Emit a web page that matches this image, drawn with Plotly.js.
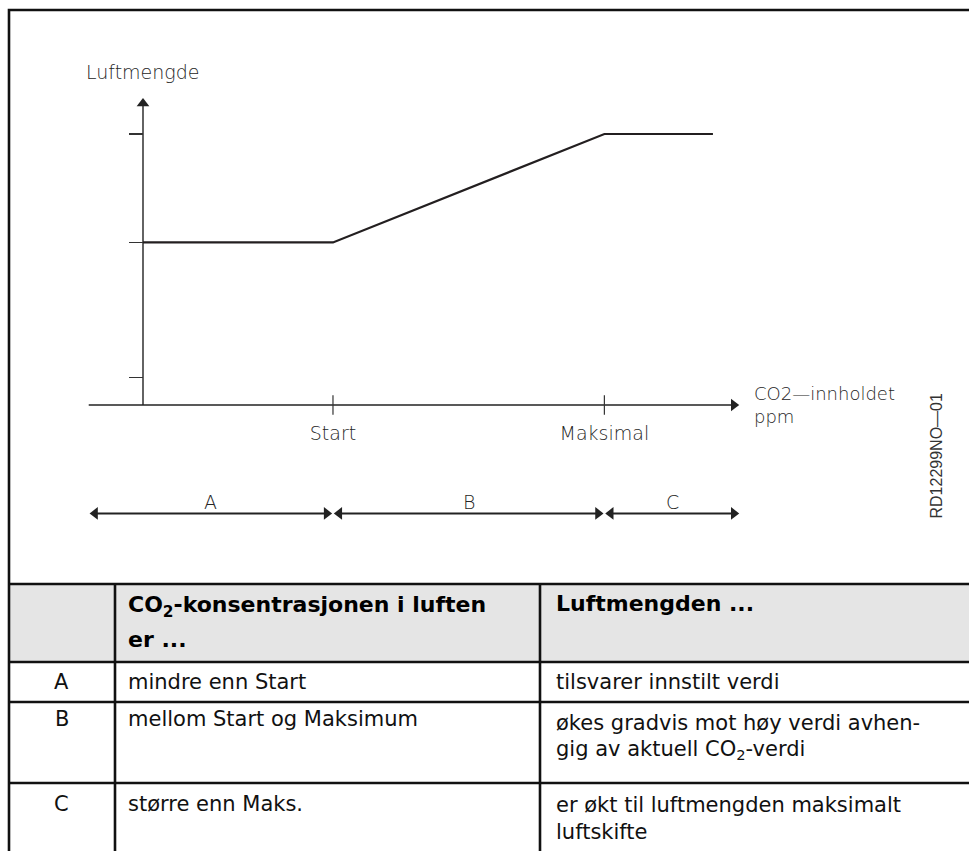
<!DOCTYPE html>
<html>
<head>
<meta charset="utf-8">
<script src="https://cdn.plot.ly/plotly-3.0.1.min.js"></script>
<style>html,body{margin:0;padding:0;background:#ffffff;}</style>
</head>
<body>
<div id="chart" style="width:969px;height:851px;"></div>
<script>
// ---------- data ----------
const co2Level = [0, 7, 17, 21];          // CO2 content (schematic units)
const airFlow  = [6, 6, 10, 10];          // Luftmengde (schematic units)
const xTickVals = [7, 17];
const xTickText = ['Start', 'Maksimal'];
const yTickVals = [1, 6, 10];
const axisXMin = -2, axisXMax = 22, axisYMax = 11.36;
const regionNames = ['A', 'B', 'C'];
const regionFrom  = [-2, 7, 17];
const regionTo    = [7, 17, 22];
const regionRowY  = -4;
const yAxisTitle = 'Luftmengde';
const xAxisTitle = 'CO2\u2014innholdet<br>ppm';
const drawingId = 'RD12299NO\u201401';

const headCol2 = ['<b>CO<sub>2</sub>-konsentrasjonen i luften</b>', '<b>er ...</b>'];
const headCol3 = ['<b>Luftmengden ...</b>'];
const rowKeys = ['A', 'B', 'C'];
const rowCol2 = [['mindre enn Start'], ['mellom Start og Maksimum'], ['st\u00f8rre enn Maks.']];
const rowCol3 = [['tilsvarer innstilt verdi'],
                 ['\u00f8kes gradvis mot h\u00f8y verdi avhen-', 'gig av aktuell CO<sub>2</sub>-verdi'],
                 ['er \u00f8kt til luftmengden maksimalt', 'luftskifte']];

// ---------- layout helpers (pixel -> paper) ----------
const W = 969, H = 851;
const px = v => v / W;
const py = v => 1 - v / H;
const originX = 143, originY = 405, sx = 27.14, sy = 27.1;

const ink = '#222222';
const diagFont = {family: 'DejaVu Sans', size: 19, color: '#262626', weight: 200};
const tableFont = {family: 'DejaVu Sans', size: 21, color: '#111111'};
const headFont = {family: 'DejaVu Sans', size: 22, color: '#000000'};

// arrowhead geometry (plotly triangle markers: tip sits 1.1547*size/2 px from centre)
const axisHead = 11, dimHead = 11;
const tip = s => s / 2 * 2 / Math.sqrt(3);
const axOffX = tip(axisHead) / sx, axOffY = tip(axisHead) / sy, dimOffX = tip(dimHead) / sx;

const traces = [
  // main curve
  {x: co2Level, y: airFlow, mode: 'lines', type: 'scatter',
   line: {color: '#231f20', width: 2.2}, hoverinfo: 'skip'},
  // x axis line + head
  {x: [axisXMin, axisXMax - axOffX], y: [0, 0], mode: 'lines', type: 'scatter',
   line: {color: ink, width: 1.4}, hoverinfo: 'skip'},
  {x: [axisXMax - axOffX], y: [0], mode: 'markers', type: 'scatter',
   marker: {symbol: 'triangle-right', size: axisHead, color: ink, line: {width: 0}}, hoverinfo: 'skip'},
  // y axis line + head
  {x: [0, 0], y: [0, axisYMax - axOffY], mode: 'lines', type: 'scatter',
   line: {color: ink, width: 1.4}, hoverinfo: 'skip'},
  {x: [0], y: [axisYMax - axOffY], mode: 'markers', type: 'scatter',
   marker: {symbol: 'triangle-up', size: axisHead, color: ink, line: {width: 0}}, hoverinfo: 'skip'},
  // crossing tick marks on x axis
  {x: xTickVals, y: xTickVals.map(() => 0), mode: 'markers', type: 'scatter',
   marker: {symbol: 'line-ns-open', size: 14, color: '#333', line: {color: '#333', width: 1.2}},
   hoverinfo: 'skip'}
];
// region dimension arrows
regionNames.forEach((r, i) => {
  traces.push({x: [regionFrom[i] + dimOffX, regionTo[i] - dimOffX], y: [regionRowY, regionRowY],
    mode: 'lines', type: 'scatter', line: {color: ink, width: 2}, hoverinfo: 'skip'});
  traces.push({x: [regionFrom[i] + dimOffX, regionTo[i] - dimOffX], y: [regionRowY, regionRowY],
    mode: 'markers', type: 'scatter', hoverinfo: 'skip',
    marker: {symbol: ['triangle-left', 'triangle-right'], size: dimHead, color: ink, line: {width: 0}}});
});

const annotations = [];
regionNames.forEach((r, i) => {
  annotations.push({xref: 'x', yref: 'y', x: (regionFrom[i] + regionTo[i]) / 2, y: regionRowY,
    yshift: 11, text: r, showarrow: false, font: diagFont, xanchor: 'center', yanchor: 'middle'});
});
// axis titles
annotations.push({xref: 'paper', yref: 'paper', x: px(84), y: py(72), text: yAxisTitle, showarrow: false,
  font: diagFont, xanchor: 'left', yanchor: 'middle'});
annotations.push({xref: 'paper', yref: 'paper', x: px(752), y: py(405), text: xAxisTitle, showarrow: false,
  font: {family: 'DejaVu Sans', size: 18, color: '#262626', weight: 200}, xanchor: 'left', yanchor: 'middle', align: 'left'});
annotations.push({xref: 'paper', yref: 'paper', x: px(935.5), y: py(456), text: drawingId, showarrow: false,
  textangle: -90, font: {family: 'Liberation Sans', size: 16, color: '#333'}, xanchor: 'center', yanchor: 'middle'});

// table text
const col1X = 62, col2X = 126, col3X = 554;
annotations.push({xref: 'paper', yref: 'paper', x: px(col2X), y: py(606), text: headCol2[0], showarrow: false,
  font: headFont, xanchor: 'left', yanchor: 'middle'});
annotations.push({xref: 'paper', yref: 'paper', x: px(col2X), y: py(639), text: headCol2[1], showarrow: false,
  font: headFont, xanchor: 'left', yanchor: 'middle'});
annotations.push({xref: 'paper', yref: 'paper', x: px(col3X), y: py(603), text: headCol3[0], showarrow: false,
  font: headFont, xanchor: 'left', yanchor: 'middle'});
const rowFirst = [682, 719, 804];
const rowCol3First = [682, 723, 805];
const lineStep = 27;
rowKeys.forEach((k, i) => {
  annotations.push({xref: 'paper', yref: 'paper', x: px(col1X), y: py(rowFirst[i]), text: k, showarrow: false,
    font: tableFont, xanchor: 'center', yanchor: 'middle'});
  rowCol2[i].forEach((t, j) => annotations.push({xref: 'paper', yref: 'paper', x: px(col2X),
    y: py(rowFirst[i] + j * lineStep), text: t, showarrow: false, font: tableFont, xanchor: 'left', yanchor: 'middle'}));
  rowCol3[i].forEach((t, j) => annotations.push({xref: 'paper', yref: 'paper', x: px(col3X),
    y: py(rowCol3First[i] + j * lineStep), text: t, showarrow: false, font: tableFont, xanchor: 'left', yanchor: 'middle'}));
});

// shapes: outer frame and table grid
const lineC = '#111111';
const shapes = [
  {type: 'rect', xref: 'paper', yref: 'paper', x0: px(9), x1: 1.02, y0: py(584), y1: py(662),
   fillcolor: '#e5e5e5', line: {width: 0}, layer: 'below'},
  {type: 'rect', xref: 'paper', yref: 'paper', x0: px(9), x1: 1.02, y0: -0.02, y1: py(10),
   line: {color: lineC, width: 2.6}, fillcolor: 'rgba(0,0,0,0)'}
];
[584, 662, 702, 783].forEach(y => shapes.push({type: 'line', xref: 'paper', yref: 'paper',
  x0: px(9), x1: 1.02, y0: py(y), y1: py(y), line: {color: lineC, width: 2.6}}));
[115, 540].forEach(x => shapes.push({type: 'line', xref: 'paper', yref: 'paper',
  x0: px(x), x1: px(x), y0: py(584), y1: -0.02, line: {color: lineC, width: 2.6}}));

const layout = {
  width: W, height: H,
  margin: {l: 0, r: 0, t: 0, b: 0, pad: 0},
  paper_bgcolor: '#ffffff', plot_bgcolor: 'rgba(0,0,0,0)',
  showlegend: false,
  xaxis: {domain: [0, 1], range: [-originX / sx, (W - originX) / sx], anchor: 'free', position: py(originY),
    showgrid: false, zeroline: false, showline: false, ticks: '', tickmode: 'array',
    tickvals: xTickVals, ticktext: xTickText, tickfont: diagFont, ticklabelstandoff: 15, fixedrange: true},
  yaxis: {domain: [0, 1], range: [(originY - H) / sy, originY / sy], anchor: 'free', position: px(originX),
    showgrid: false, zeroline: false, showline: false, ticks: 'outside', ticklen: 14, tickwidth: 1.2,
    tickcolor: '#333', tickmode: 'array', tickvals: yTickVals, showticklabels: false, fixedrange: true},
  annotations: annotations,
  shapes: shapes
};

Plotly.newPlot('chart', traces, layout, {staticPlot: true, displayModeBar: false});
</script>
</body>
</html>
